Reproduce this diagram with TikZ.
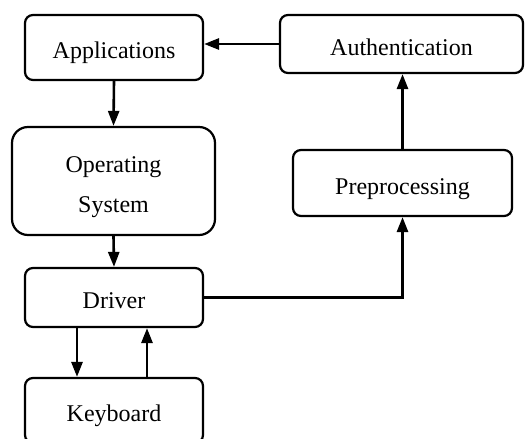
\documentclass[tikz,border=0pt]{standalone}
\usepackage{fontspec}
\setmainfont{Liberation Serif}
\usetikzlibrary{arrows.meta}

\tikzset{
    block/.style={draw, line width=1.1pt, rounded corners=4pt, align=center, text height=11pt, text depth=0pt},
    arr/.style={line width=1.3pt, -{Triangle[length=7.5pt,width=5.5pt]}}
}

\begin{document}
\begin{tikzpicture}[x=0.5pt, y=-0.5pt, font=\fontsize{12}{20}\selectfont]
        \useasboundingbox (0, 0) rectangle (526, 439);

        \node[block, minimum width=89pt, minimum height=32.5pt] (app) at (114, 47.5) {Applications};
        \node[block, minimum width=121.5pt, minimum height=29pt] (auth) at (401.5, 44) {Authentication};
        \node[block, minimum width=101.5pt, minimum height=54pt, rounded corners=8pt, text height=31.7pt] (os) at (113.5, 181) {Operating\\System};
        \node[block, minimum width=109.5pt, minimum height=33pt] (pre) at (402.5, 183) {Preprocessing};
        \node[block, minimum width=89pt, minimum height=29.5pt] (drv) at (114, 297.5) {Driver};
        \node[block, minimum width=89pt, minimum height=32.5pt] (kbd) at (114, 410.5) {Keyboard};

        \draw[arr] (auth.west) -- (app.east |- auth.west);
        \draw[arr] (app.south) -- (os.north);
        \draw[arr] (os.south) -- (drv.north);
        \draw[arr] (drv.east) -| (pre.south);
        \draw[arr] (pre.north) -- (auth.south -| pre.north);
        \draw[arr] ([xshift=-18.5pt]drv.south) -- ([xshift=-18.5pt]kbd.north);
        \draw[arr] ([xshift=16.5pt]kbd.north) -- ([xshift=16.5pt]drv.south);
    \end{tikzpicture}
\end{document}
